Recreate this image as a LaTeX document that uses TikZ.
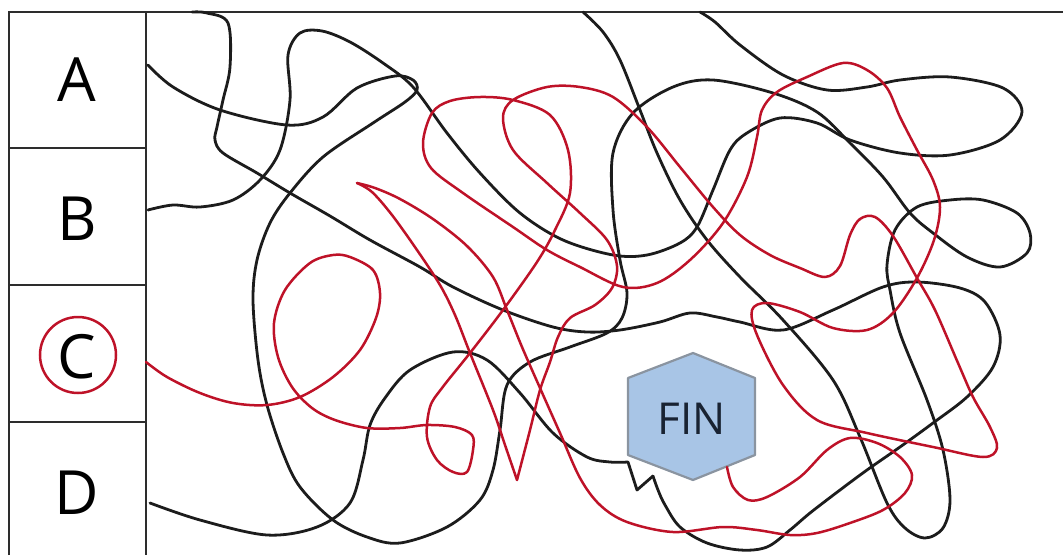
\documentclass[tikz,border=0pt]{standalone}
\usepackage{fontspec}
\setmainfont{Open Sans}
\definecolor{mazered}{RGB}{190,18,40}
\definecolor{mazeblack}{RGB}{28,28,28}
\definecolor{finfill}{RGB}{168,197,230}
\definecolor{finborder}{RGB}{138,148,160}
\definecolor{framec}{RGB}{45,45,45}
\definecolor{fintext}{RGB}{25,35,50}
\begin{document}
\begin{tikzpicture}[x=1pt,y=-1pt,
  blk/.style={draw=mazeblack,line width=2.8pt,line cap=round,line join=round},
  rdl/.style={draw=mazered,line width=2.5pt,line cap=round,line join=round},
  frm/.style={draw=framec,line width=2.8pt},
  lbl/.style={font=\fontsize{61}{61}\selectfont,inner sep=0pt},
  sm/.style={smooth,tension=0.55}]
\useasboundingbox (0,0) rectangle (1063,555);
% frame
\draw[frm] (9,555) -- (9,12) -- (1063,12);
\draw[frm] (146,12) -- (146,555);
\draw[frm] (9,148) -- (146,148);
\draw[frm] (9,285) -- (146,285);
\draw[frm] (9,422) -- (146,422);
% labels
\node[lbl] (la) at (77,80) {A};
\node[lbl] (lb) at (77,219) {B};
\node[lbl] (lc) at (77,357) {C};
\node[lbl] (ld) at (77,493) {D};
\draw[mazered,line width=2.5pt] (lc.center) ++(1,-2) circle (38);
% starting coordinates
\coordinate (sa) at (148,65);
\coordinate (sb) at (148,210);
\coordinate (sc) at (146,362);
\coordinate (sd) at (150,503);
% FIN hexagon
\filldraw[fill=finfill,draw=finborder,line width=2.2pt,line join=round]
  (693,353) -- (755,378) -- (755,455) -- (693,480) -- (628,455) -- (628,378) -- cycle;
\node[font=\fontsize{44}{44}\selectfont,text=fintext,inner sep=0pt] (fin) at (692,419) {FIN};
% black curve from A
\draw[blk] plot[sm] coordinates {(sa) (173,87) (220,110) (287,125) (323,117) (357,88) (395,76) (413,80) (417,90) (405,102) (373,123) (323,157) (290,193) (270,223) (257,260) (253,300) (258,360) (267,405) (283,453) (300,487) (333,520) (367,537) (400,543) (447,527) (480,500) (493,470) (500,430) (507,385) (530,362) (570,347) (607,333) (622,318) (627,293) (620,260) (613,210) (613,153) (633,113) (673,87) (713,80) (773,93) (817,112) (850,143) (883,177) (910,213) (933,233) (967,257) (1000,267) (1027,253) (1030,233) (1017,213) (983,200) (950,200) (917,207) (895,230) (887,265) (890,290) (900,333) (927,400) (943,450) (950,500) (943,528) (925,538) (905,528) (887,503) (860,437) (833,380) (783,320) (740,277) (707,240) (680,200) (657,153) (640,110) (620,60) (603,32) (583,12)};
% black curve from B
\draw[blk] plot[sm] coordinates {(sb) (173,205) (200,207) (233,200) (260,180) (280,150) (290,100) (288,55) (300,33) (322,31) (350,42) (383,63) (413,87) (447,133) (480,173) (520,213) (563,240) (613,255) (647,255) (680,243) (697,227) (713,190) (730,150) (747,133) (780,118) (817,123) (850,140) (900,153) (950,155) (1000,140) (1022,112) (1003,88) (950,77) (900,80) (867,87) (827,90) (783,75) (740,45) (715,22) (700,12)};
% black curve from D
\draw[blk] plot[sm] coordinates {(sd) (200,520) (267,535) (317,527) (350,503) (363,460) (370,425) (385,398) (410,370) (453,352) (487,360) (520,393) (553,433) (587,457) (610,462) (628,462)}
  -- (637,490) -- (653,476);
\draw[blk] plot[sm] coordinates {(653,476) (658,490) (665,505) (680,527) (707,543) (740,550) (767,547) (790,530) (810,513) (840,490) (867,470) (900,447) (933,423) (967,397) (993,367) (1000,335) (985,302) (960,288) (917,282) (883,287) (833,310) (783,330) (740,322) (717,317) (690,313) (660,322) (620,330) (587,332) (553,327) (503,310) (453,287) (420,267) (370,240) (330,216) (290,193) (257,173) (223,153) (215,140) (217,127) (223,100) (230,67) (228,23) (207,13) (192,12)};
% red curve from C
\draw[rdl] plot[sm] coordinates {(sc) (167,377) (200,393) (233,403) (267,405) (300,397) (333,377) (360,350) (376,318) (380,293) (373,270) (350,257) (333,255) (310,263) (285,290) (274,323) (278,357) (292,387) (312,408) (335,420) (367,428) (400,428) (427,425) (455,427) (472,435) (473,450) (467,472) (453,472) (437,460) (427,437) (430,407) (442,388) (470,353) (503,310) (537,262) (555,230) (570,193) (568,150) (550,115) (513,100) (480,97) (450,101) (432,113) (423,143) (431,168) (463,193) (513,227) (547,250) (580,267) (623,287) (657,283) (690,260) (723,223) (747,177) (757,137) (762,110) (777,92) (807,77) (843,63) (867,70) (887,88) (900,117) (917,150) (933,180) (940,207) (934,240) (917,278) (893,313) (867,330) (833,328) (800,312) (767,303) (752,310) (757,335) (783,385) (817,420) (867,433) (933,447) (983,457) (997,448) (990,427) (973,397) (958,363) (935,310) (917,278) (893,236) (875,217) (860,219) (850,235) (840,266) (825,277) (800,268) (770,255) (740,235) (713,207) (680,167) (647,127) (613,97) (580,87) (547,87) (513,100) (503,118) (513,150) (547,183) (580,213) (607,240) (617,266) (612,288) (595,305) (570,318) (558,337) (550,362) (540,390) (530,430) (517,480)};
\draw[rdl] plot[sm] coordinates {(517,480) (505,445) (493,410) (470,353) (455,315) (440,285) (417,250) (392,215) (372,192) (357,183)};
\draw[rdl] plot[sm] coordinates {(357,183) (375,188) (400,199) (433,219) (467,246) (493,277) (507,310) (522,347) (540,388) (560,433) (580,478) (600,505) (627,522) (673,532) (723,527) (757,530) (790,535) (817,533) (850,523) (883,510) (905,493) (912,475) (900,457) (877,443) (850,438) (827,450) (800,477) (767,497) (748,500) (733,487) (727,467)};
\end{tikzpicture}
\end{document}
